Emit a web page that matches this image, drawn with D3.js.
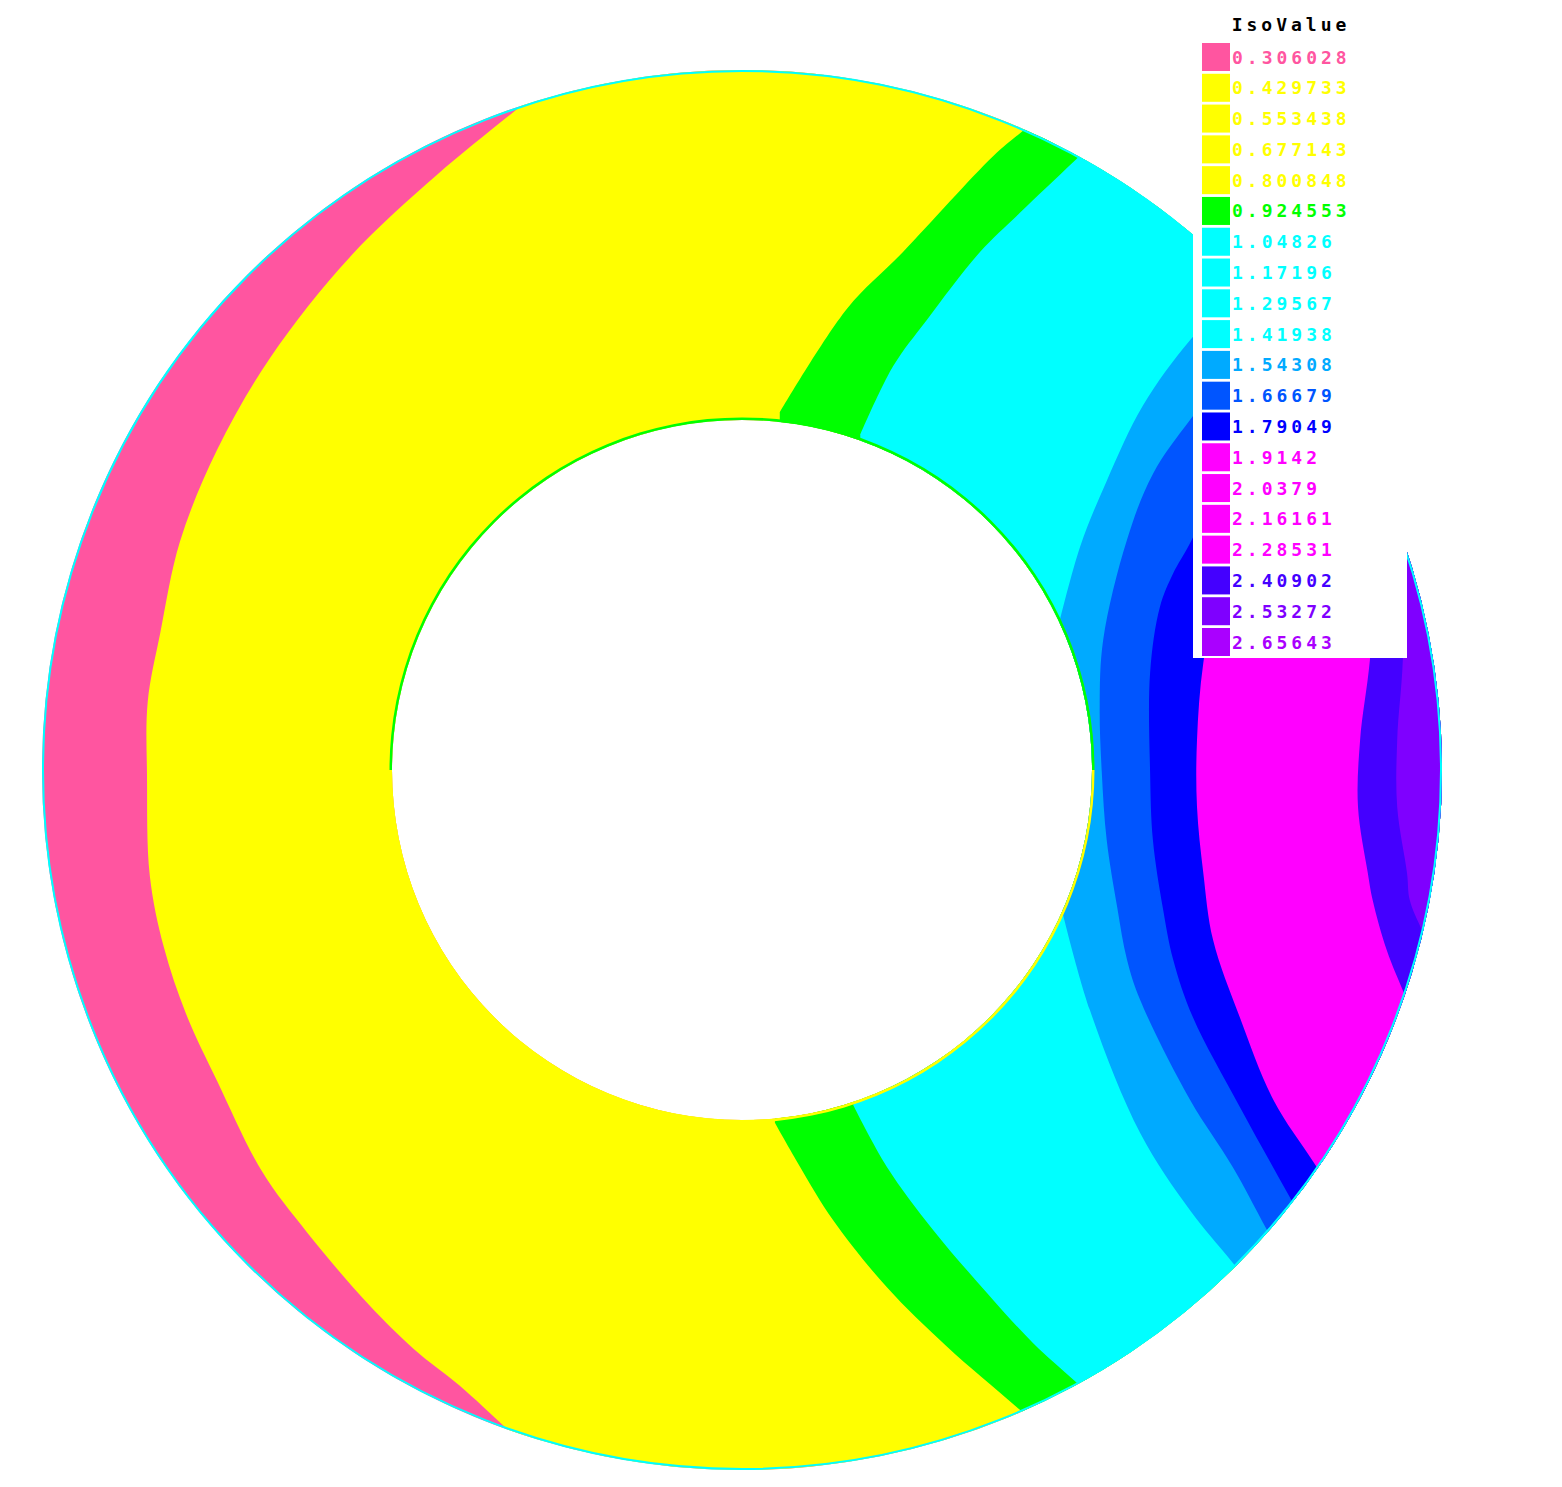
<!DOCTYPE html>
<html>
<head>
<meta charset="utf-8">
<script src="https://cdn.jsdelivr.net/npm/d3@7"></script>
<style>
body { margin: 0; background: #fff; }
.lab { font-family: "DejaVu Sans Mono", monospace; font-weight: bold; font-size: 18px; letter-spacing: 4px; }
</style>
</head>
<body>
<div id="vis"></div>
<script>
var width = 1562,
    height = 1487;

// legend: iso levels and their colours
var isoLabels = ["0.306028", "0.429733", "0.553438", "0.677143", "0.800848", "0.924553",
                 "1.04826", "1.17196", "1.29567", "1.41938", "1.54308", "1.66679", "1.79049",
                 "1.9142", "2.0379", "2.16161", "2.28531", "2.40902", "2.53272", "2.65643"];
var isoColors = ["#ff55a0", "#ffff00", "#ffff00", "#ffff00", "#ffff00", "#00ff00",
                 "#00ffff", "#00ffff", "#00ffff", "#00ffff", "#00aaff", "#0055ff", "#0000ff",
                 "#ff00ff", "#ff00ff", "#ff00ff", "#ff00ff", "#4400ff", "#7f00ff", "#aa00ff"];

// band fills across the ring, left to right
var bandColors = ["#ff55a0", "#ffff00", "#00ff00", "#00ffff", "#00aaff",
                  "#0055ff", "#0000ff", "#ff00ff", "#4400ff", "#7f00ff"];

// band edges in mesh coords (outer radius 1, inner 0.5), read top to bottom
var b1 = [[-0.313, 0.951], [-0.436, 0.850], [-0.560, 0.733], [-0.674, 0.589], [-0.750, 0.457],
          [-0.803, 0.326], [-0.831, 0.196], [-0.849, 0.097], [-0.850, -0.009], [-0.846, -0.151],
          [-0.826, -0.253], [-0.794, -0.349], [-0.750, -0.444], [-0.686, -0.573], [-0.621, -0.661],
          [-0.533, -0.764], [-0.469, -0.827], [-0.404, -0.879], [-0.334, -0.943]];
var b2 = [[0.401, 0.913], [0.359, 0.877], [0.230, 0.740], [0.150, 0.659], [0.054, 0.511],
          [0.047, -0.504], [0.083, -0.567], [0.130, -0.643], [0.207, -0.739], [0.293, -0.824],
          [0.397, -0.914]];
var b3 = [[0.476, 0.871], [0.397, 0.796], [0.340, 0.740], [0.264, 0.643], [0.216, 0.577],
          [0.169, 0.479], [0.159, -0.479], [0.207, -0.567], [0.273, -0.657], [0.350, -0.747],
          [0.416, -0.819], [0.479, -0.876]];
var b4 = [[0.711, 0.686], [0.640, 0.614], [0.573, 0.521], [0.521, 0.413], [0.483, 0.319],
          [0.454, 0.214], [0.457, -0.200], [0.497, -0.343], [0.569, -0.519], [0.640, -0.629],
          [0.701, -0.704]];
var b5 = [[0.711, 0.586], [0.640, 0.500], [0.587, 0.423], [0.550, 0.329], [0.516, 0.186],
          [0.511, 0.090], [0.514, -0.004], [0.521, -0.100], [0.536, -0.196], [0.550, -0.271],
          [0.569, -0.329], [0.640, -0.471], [0.701, -0.567], [0.750, -0.657]];
var b6 = [[0.726, 0.500], [0.640, 0.324], [0.616, 0.281], [0.597, 0.233], [0.583, 0.139],
          [0.583, -0.004], [0.587, -0.100], [0.601, -0.196], [0.616, -0.271], [0.644, -0.353],
          [0.711, -0.481], [0.779, -0.604]];
var b7 = [[0.740, 0.429], [0.683, 0.271], [0.659, 0.153], [0.650, 0.043], [0.650, -0.053],
          [0.659, -0.147], [0.673, -0.243], [0.711, -0.353], [0.759, -0.471], [0.821, -0.567]];
var b8 = [[0.911, 0.357], [0.897, 0.157], [0.883, 0.043], [0.880, -0.053], [0.894, -0.147],
          [0.901, -0.186], [0.921, -0.257], [0.950, -0.329]];
var b9 = [[0.944, 0.300], [0.944, 0.157], [0.936, 0.043], [0.936, -0.053], [0.950, -0.147],
          [0.954, -0.186], [0.973, -0.233]];
var boundaries = [b1, b2, b3, b4, b5, b6, b7, b8, b9];

var rOuter = 1, rInner = 0.5;

var x = d3.scaleLinear().domain([-1, 1]).range([42, 1442]);
var y = d3.scaleLinear().domain([1, -1]).range([70, 1470]);

var svg = d3.select("#vis").append("svg")
    .attr("width", width)
    .attr("height", height)
    .style("display", "block");

svg.append("rect").attr("width", width).attr("height", height).attr("fill", "#fff");

//--------RING CLIP--------//
var cx = x(0), cy = y(0);
var R = x(rOuter) - cx, r = x(rInner) - cx;
var ring = d3.path();
ring.moveTo(cx + R, cy); ring.arc(cx, cy, R, 0, 2 * Math.PI);
ring.moveTo(cx + r, cy); ring.arc(cx, cy, r, 0, 2 * Math.PI);

svg.append("clipPath").attr("id", "ring")
  .append("path")
    .attr("d", ring.toString())
    .attr("clip-rule", "evenodd");

//--------BANDS--------//
var line = d3.line()
    .x(function(d) { return x(d[0]); })
    .y(function(d) { return y(d[1]); })
    .curve(d3.curveCatmullRom.alpha(0.5));

// push an end point a little further along its last segment (off the ring)
function stretch(p, q) {
    var dx = p[0] - q[0], dy = p[1] - q[1], l = Math.sqrt(dx * dx + dy * dy);
    return [p[0] + 0.2 * dx / l, p[1] + 0.2 * dy / l];
}

// split an edge where it jumps across the hole, so the curve doesn't bend there
function pieces(b) {
    var out = [[b[0]]];
    for (var i = 1; i < b.length; i++) {
        var mx = (b[i][0] + b[i - 1][0]) / 2, my = (b[i][1] + b[i - 1][1]) / 2;
        if (Math.sqrt(mx * mx + my * my) < rInner) out.push([]);
        out[out.length - 1].push(b[i]);
    }
    return out;
}

var bands = svg.append("g").attr("clip-path", "url(#ring)");

// first band fills the whole ring, each next one covers everything right of its edge
bands.append("rect")
    .attr("x", x(-1.2)).attr("y", y(1.2))
    .attr("width", x(1.2) - x(-1.2)).attr("height", y(-1.2) - y(1.2))
    .attr("fill", bandColors[0]);

bands.selectAll(".band")
    .data(boundaries)
    .enter()
    .append("path")
    .attr("class", "band")
    .attr("fill", function(d, i) { return bandColors[i + 1]; })
    .attr("d", function(b) {
        var n = b.length;
        var s = stretch(b[0], b[1]), e = stretch(b[n - 1], b[n - 2]);
        var parts = pieces(b);
        parts[0].unshift(s);
        parts[parts.length - 1].push(e);
        var d = "M" + x(s[0]) + "," + y(1.6);
        parts.forEach(function(p) { d += "L" + line(p).slice(1); });
        return d +
            "L" + x(e[0]) + "," + y(-1.6) +
            "L" + x(3) + "," + y(-1.6) +
            "L" + x(3) + "," + y(1.6) + "Z";
    });

// outlines
svg.append("circle")
    .attr("cx", cx).attr("cy", cy).attr("r", R - 1)
    .attr("fill", "none").attr("stroke", "#00ffff").attr("stroke-width", 2);

var edge = d3.arc().innerRadius(r).outerRadius(r + 2.5);
svg.append("path")
    .attr("transform", "translate(" + cx + "," + cy + ")")
    .attr("d", edge({startAngle: -Math.PI / 2, endAngle: Math.PI / 2}))
    .attr("fill", "#00ff00");
svg.append("path")
    .attr("transform", "translate(" + cx + "," + cy + ")")
    .attr("d", edge({startAngle: Math.PI / 2, endAngle: Math.PI * 1.5}))
    .attr("fill", "#ffff00");

//--------LEGEND--------//
var legend = svg.append("g");
legend.append("rect")
    .attr("x", 1193).attr("y", 0)
    .attr("width", 214).attr("height", 658)
    .attr("fill", "#fff");

legend.append("text")
    .attr("class", "lab")
    .attr("x", 1291).attr("y", 31)
    .attr("text-anchor", "middle")
    .attr("fill", "#000")
    .text("IsoValue");

var ly = d3.scalePoint()
    .domain(d3.range(isoLabels.length))
    .range([57, 642]);

var item = legend.selectAll(".item")
    .data(isoLabels)
    .enter()
    .append("g")
    .attr("class", "item")
    .attr("transform", function(d, i) { return "translate(0," + ly(i) + ")"; });

item.append("rect")
    .attr("x", 1202).attr("y", -14)
    .attr("width", 28).attr("height", 28)
    .attr("fill", function(d, i) { return isoColors[i]; });

item.append("text")
    .attr("class", "lab")
    .attr("x", 1232).attr("y", 6.5)
    .attr("fill", function(d, i) { return isoColors[i]; })
    .text(function(d) { return d; });
</script>
</body>
</html>
